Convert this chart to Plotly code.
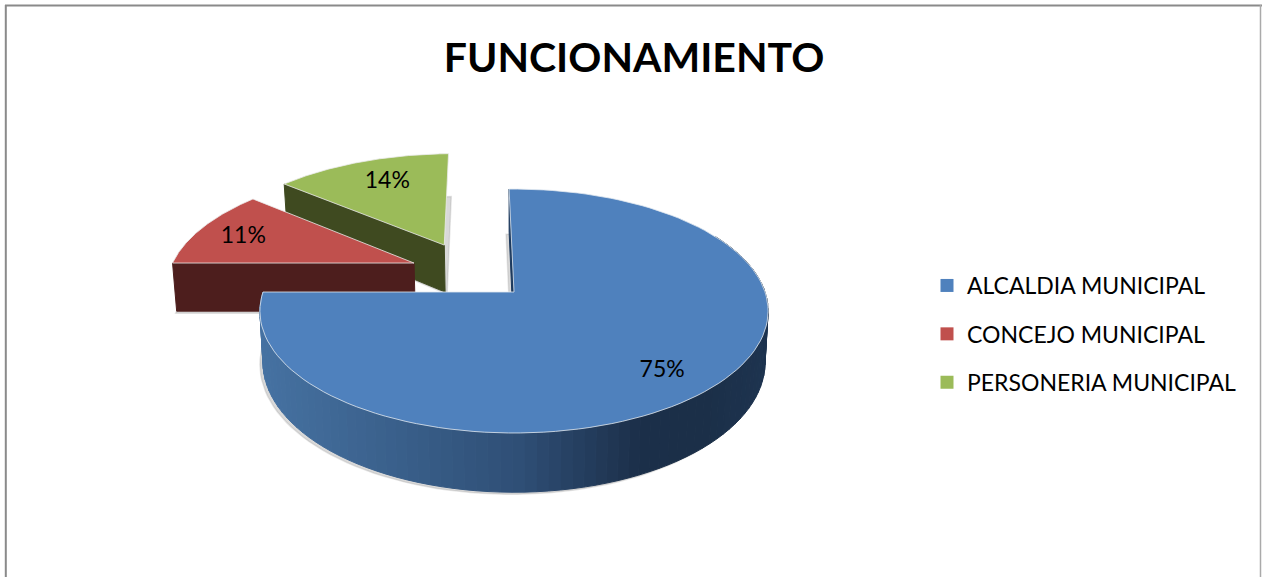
import numpy as np
import plotly.graph_objects as go

# chart data
categories = ["ALCALDIA MUNICIPAL", "CONCEJO MUNICIPAL", "PERSONERIA MUNICIPAL"]
values = [75.36, 11.0, 13.64]
top_colors = ["#4f81bd", "#c0504d", "#9bbb59"]
wall_colors = ["#1d3a5e", "#4d1e1d", "#3f4a20"]
# how far each slice is pulled out of the pie (unit disc, left/right and back/front)
explode = [(0.0, 0.0), (-0.414, -0.253), (-0.296, -0.42)]
shadow_shift = [-3, -1, 2]
# percent labels are nudged a little from the computed spot, in pixels
label_nudge = [(-7, 7), (-2, 3), (10, 5)]

# pie geometry, axes are in page pixels
W, H = 1262, 577
CX, CY = 514, 292
RX, RY = 251, 119
PERSP = 0.156
DEPTH = 50
BOTTOM_SCALE = 0.988
START_ANGLE = -1.3

# side of the big slice gets darker to the right
grad_x = [262, 520, 640, 700, 768]
grad_r = [70, 47, 28, 27, 30]
grad_g = [114, 79, 47, 47, 52]
grad_b = [162, 118, 74, 72, 80]


def project(u, v, drop=0.0):
    u, v = np.asarray(u, float), np.asarray(v, float)
    s = 1 / (1 - PERSP * v)
    x = CX + RX * u * s
    y = CY + RY * v * s + drop * s
    if drop:
        x = CX + (x - CX) * BOTTOM_SCALE
    return x, y


def rim(a0, a1, off, n=120, drop=0.0):
    a = np.radians(np.linspace(a0, a1, n))
    return project(off[0] + np.sin(a), off[1] - np.cos(a), drop)


def poly(x, y, fill, line=None, width=1, name=None):
    return go.Scatter(x=list(x), y=list(y), mode="lines", fill="toself", fillcolor=fill,
                      line=dict(color=line or fill, width=width), showlegend=False,
                      hoverinfo="text" if name else "skip", text=name)


def sector(a0, a1, off, drop=0.0):
    x, y = rim(a0, a1, off, drop=drop)
    ax, ay = project(off[0], off[1], drop)
    return np.r_[ax, x, ax], np.r_[ay, y, ay]


def radial_wall(angle, off):
    a = np.radians(angle)
    us = [off[0], off[0] + np.sin(a)]
    vs = [off[1], off[1] - np.cos(a)]
    x0, y0 = project(us, vs)
    x1, y1 = project(us, vs, DEPTH)
    return np.r_[x0, x1[::-1], x0[0]], np.r_[y0, y1[::-1], y0[0]]


shares = np.array(values) / sum(values)
edges = START_ANGLE + np.r_[0, np.cumsum(shares)] * 360

fig = go.Figure()

# soft shadows go in first
for i in range(3):
    x, y = sector(edges[i], edges[i + 1], explode[i], DEPTH)
    fig.add_trace(poly(x + shadow_shift[i], y + 2, "rgba(130,130,130,0.3)", "rgba(130,130,130,0.2)", 1.5))

# back to front: green, red, blue
for i in [2, 1]:
    x, y = radial_wall(edges[i], explode[i])
    fig.add_trace(poly(x, y, wall_colors[i]))
    x, y = sector(edges[i], edges[i + 1], explode[i])
    fig.add_trace(poly(x, y, top_colors[i], "rgba(235,235,235,0.8)", 1, categories[i]))

x, y = radial_wall(edges[0], explode[0])
fig.add_trace(poly(x, y, wall_colors[0]))
steps = np.linspace(60, edges[1], 90)
for a0, a1 in zip(steps[:-1], steps[1:]):
    xt, yt = rim(a0, a1, explode[0], n=3)
    xb, yb = rim(a0, a1, explode[0], n=3, drop=DEPTH)
    mid = xt.mean()
    col = "rgb(%d,%d,%d)" % tuple(np.interp(mid, grad_x, c) for c in (grad_r, grad_g, grad_b))
    fig.add_trace(poly(np.r_[xt, xb[::-1], xt[0]], np.r_[yt, yb[::-1], yt[0]], col))
x, y = sector(edges[0], edges[1], explode[0])
fig.add_trace(poly(x, y, top_colors[0], "rgba(225,232,240,0.8)", 1, categories[0]))

# percent labels sit at the same radius on each slice
mids = np.radians((edges[:-1] + edges[1:]) / 2)
lx, ly = [], []
for i in range(3):
    px, py = project(explode[i][0] + 0.79 * np.sin(mids[i]), explode[i][1] - 0.79 * np.cos(mids[i]))
    lx.append(float(px) + label_nudge[i][0])
    ly.append(float(py) + label_nudge[i][1])
fig.add_trace(go.Scatter(x=lx, y=ly, mode="text", text=["%d%%" % round(v) for v in values],
                         textposition="middle center", textfont=dict(size=23, color="#000000"),
                         showlegend=False, hoverinfo="skip"))

# legend entries
for i in range(3):
    fig.add_trace(go.Scatter(x=[None], y=[None], mode="markers", name=categories[i],
                             legendgroup=categories[i],
                             marker=dict(symbol="square", size=13, color=top_colors[i])))

fig.update_layout(
    width=W, height=H,
    margin=dict(l=0, r=0, t=0, b=0),
    paper_bgcolor="white", plot_bgcolor="white",
    font=dict(family="Lato", color="#000000"),
    title=dict(text="<b>FUNCIONAMIENTO</b>", x=634 / W, y=1 - 58 / H, xanchor="center", yanchor="middle",
               font=dict(family="Lato", size=41, color="#000000")),
    xaxis=dict(range=[0, W], visible=False, fixedrange=True),
    yaxis=dict(range=[H, 0], visible=False, fixedrange=True),
    legend=dict(x=927 / W, y=1 - 264 / H, xanchor="left", yanchor="top", font=dict(size=23),
                tracegroupgap=15.5, bgcolor="rgba(0,0,0,0)"),
    shapes=[
        dict(type="line", x0=5.8, x1=5.8, y0=5, y1=H, line=dict(color="#8a8a8a", width=2)),
        dict(type="line", x0=5, x1=W, y0=5.5, y1=5.5, line=dict(color="#8a8a8a", width=2)),
        dict(type="line", x0=1260.5, x1=1260.5, y0=5, y1=H, line=dict(color="#aaaaaa", width=1.5)),
    ],
)

fig.write_html("out.html", config=dict(displayModeBar=False), post_script="document.body.style.margin='0';")
